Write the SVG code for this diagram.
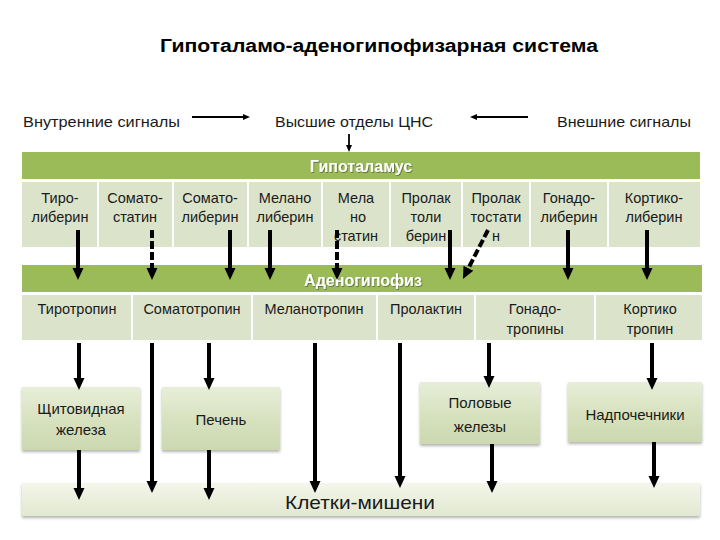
<svg xmlns="http://www.w3.org/2000/svg" width="720" height="540" viewBox="0 0 720 540">
<style>
text{font-family:"Liberation Sans","DejaVu Sans",sans-serif;fill:#1a1a1a}
.title{font-size:18px;font-weight:bold;fill:#000}
.sig{font-size:15px}
.bar{fill:#9bbb59}
.barT{font-size:16px;font-weight:bold;fill:#fff;text-anchor:middle}
.cell{fill:#dbe4cb}
.div{stroke:#fff;stroke-width:2}
.ct{font-size:14.5px;text-anchor:middle}
.bt{font-size:15px;text-anchor:middle}
.box{fill:url(#g)}
.sol{stroke:#000;stroke-width:4;fill:none;marker-end:url(#ah)}
.dsh{stroke:#000;stroke-width:4;fill:none;stroke-dasharray:8 3;marker-end:url(#ah)}
.thin{stroke:#000;stroke-width:1.8;fill:none;marker-end:url(#as)}
</style>
<defs>
<linearGradient id="g" x1="0" y1="0" x2="0" y2="1">
<stop offset="0" stop-color="#e8eed9"/>
<stop offset="0.5" stop-color="#d8e2c0"/>
<stop offset="1" stop-color="#ccd8b0"/>
</linearGradient>
<linearGradient id="g2" x1="0" y1="0" x2="0" y2="1">
<stop offset="0" stop-color="#f4f6ea"/>
<stop offset="1" stop-color="#e1e8d0"/>
</linearGradient>
<filter id="sh" x="-10%" y="-10%" width="120%" height="130%">
<feDropShadow dx="0" dy="2" stdDeviation="1.5" flood-color="#000" flood-opacity="0.3"/>
</filter>
<filter id="ts" x="-5%" y="-20%" width="110%" height="150%">
<feDropShadow dx="0.8" dy="0.8" stdDeviation="0.6" flood-color="#000" flood-opacity="0.45"/>
</filter>
<marker id="ah" markerUnits="userSpaceOnUse" markerWidth="14" markerHeight="12" refX="2" refY="5.5" orient="auto">
<path d="M0,0 L12,5.5 L0,11 z" fill="#000"/>
</marker>
<marker id="as" markerUnits="userSpaceOnUse" markerWidth="8" markerHeight="6" refX="1" refY="3" orient="auto">
<path d="M0,0 L7,3 L0,6 z" fill="#000"/>
</marker>
</defs>
<rect width="720" height="540" fill="#fff"/>

<text class="title" x="379" y="52" text-anchor="middle" textLength="438" lengthAdjust="spacingAndGlyphs">Гипоталамо-аденогипофизарная система</text>

<g id="signals">
<text class="sig" x="23" y="127" textLength="157" lengthAdjust="spacingAndGlyphs">Внутренние сигналы</text>
<text class="sig" x="275" y="127" textLength="158" lengthAdjust="spacingAndGlyphs">Высшие отделы ЦНС</text>
<text class="sig" x="557" y="127" textLength="134" lengthAdjust="spacingAndGlyphs">Внешние сигналы</text>
</g>

<g id="hypothalamus">
<rect class="bar" x="22" y="152" width="678" height="27"/>
<text class="barT" x="361" y="172" filter="url(#ts)">Гипоталамус</text>
<rect class="cell" x="22" y="182" width="678" height="65"/>
<g class="div">
<line x1="98" y1="182" x2="98" y2="247"/>
<line x1="173" y1="182" x2="173" y2="247"/>
<line x1="248" y1="182" x2="248" y2="247"/>
<line x1="322" y1="182" x2="322" y2="247"/>
<line x1="390" y1="182" x2="390" y2="247"/>
<line x1="462" y1="182" x2="462" y2="247"/>
<line x1="530" y1="182" x2="530" y2="247"/>
<line x1="608" y1="182" x2="608" y2="247"/>
</g>
<text class="ct" x="60" y="203">Тиро-</text><text class="ct" x="60" y="222">либерин</text>
<text class="ct" x="135" y="203">Сомато-</text><text class="ct" x="135" y="222">статин</text>
<text class="ct" x="210" y="203">Сомато-</text><text class="ct" x="210" y="222">либерин</text>
<text class="ct" x="285" y="203">Мелано</text><text class="ct" x="285" y="222">либерин</text>
<text class="ct" x="356" y="203">Мела</text><text class="ct" x="358" y="222">но</text><text class="ct" x="356" y="241">статин</text>
<text class="ct" x="426" y="203">Пролак</text><text class="ct" x="426" y="222">толи</text><text class="ct" x="426" y="241">берин</text>
<text class="ct" x="496" y="203">Пролак</text><text class="ct" x="496" y="222">тостати</text><text class="ct" x="496" y="241">н</text>
<text class="ct" x="569" y="203">Гонадо-</text><text class="ct" x="569" y="222">либерин</text>
<text class="ct" x="654" y="203">Кортико-</text><text class="ct" x="654" y="222">либерин</text>
</g>

<g id="adenohypophysis">
<rect class="bar" x="22" y="265" width="680" height="27"/>
<text class="barT" x="363" y="286" filter="url(#ts)">Аденогипофиз</text>
<rect class="cell" x="22" y="295" width="680" height="45"/>
<g class="div">
<line x1="132" y1="295" x2="132" y2="340"/>
<line x1="252" y1="295" x2="252" y2="340"/>
<line x1="377" y1="295" x2="377" y2="340"/>
<line x1="475" y1="295" x2="475" y2="340"/>
<line x1="595" y1="295" x2="595" y2="340"/>
</g>
<text class="ct" x="77" y="314">Тиротропин</text>
<text class="ct" x="192" y="314">Соматотропин</text>
<text class="ct" x="314" y="314">Меланотропин</text>
<text class="ct" x="426" y="314">Пролактин</text>
<text class="ct" x="535" y="314">Гонадо-</text><text class="ct" x="535" y="334">тропины</text>
<text class="ct" x="650" y="314">Кортико</text><text class="ct" x="650" y="334">тропин</text>
</g>

<g id="thyroid">
<rect class="box" x="22" y="387" width="118" height="63" filter="url(#sh)"/>
<text class="bt" x="81" y="414">Щитовидная</text>
<text class="bt" x="81" y="435">железа</text>
</g>
<g id="liver">
<rect class="box" x="162" y="387" width="118" height="63" filter="url(#sh)"/>
<text class="bt" x="221" y="425">Печень</text>
</g>
<g id="gonads">
<rect class="box" x="420" y="382" width="120" height="62" filter="url(#sh)"/>
<text class="bt" x="480" y="408">Половые</text>
<text class="bt" x="480" y="432">железы</text>
</g>
<g id="adrenals">
<rect class="box" x="568" y="382" width="134" height="60" filter="url(#sh)"/>
<text class="bt" x="635" y="420">Надпочечники</text>
</g>
<g id="targets">
<rect x="22" y="483" width="678" height="33" fill="url(#g2)" filter="url(#sh)"/>
<text x="285" y="509" font-size="19" textLength="150" lengthAdjust="spacingAndGlyphs">Клетки-мишени</text>
</g>

<g id="connectors">
<line class="thin" x1="192" y1="117" x2="244" y2="117"/>
<line class="thin" x1="528" y1="117" x2="476" y2="117"/>
<line class="thin" x1="349" y1="134" x2="349" y2="146"/>

<line class="sol" x1="78" y1="230" x2="78" y2="270"/>
<line class="dsh" x1="152" y1="230" x2="152" y2="270"/>
<line class="sol" x1="230" y1="230" x2="230" y2="270"/>
<line class="sol" x1="270" y1="230" x2="270" y2="270"/>
<line class="dsh" x1="337" y1="230" x2="337" y2="270"/>
<line class="sol" x1="450" y1="230" x2="450" y2="270"/>
<line class="dsh" x1="488" y1="230" x2="467.5" y2="270"/>
<line class="sol" x1="568" y1="230" x2="568" y2="270"/>
<line class="sol" x1="647" y1="230" x2="647" y2="270"/>

<line class="sol" x1="79" y1="343" x2="79" y2="380"/>
<line class="sol" x1="152" y1="343" x2="152" y2="483"/>
<line class="sol" x1="209" y1="343" x2="209" y2="380"/>
<line class="sol" x1="315" y1="343" x2="315" y2="483"/>
<line class="sol" x1="400" y1="343" x2="400" y2="478"/>
<line class="sol" x1="489" y1="343" x2="489" y2="378"/>
<line class="sol" x1="652" y1="343" x2="652" y2="380"/>

<line class="sol" x1="79" y1="450" x2="79" y2="490"/>
<line class="sol" x1="209" y1="450" x2="209" y2="490"/>
<line class="sol" x1="492" y1="444" x2="492" y2="483"/>
<line class="sol" x1="654" y1="442" x2="654" y2="478"/>
</g>
</svg>
